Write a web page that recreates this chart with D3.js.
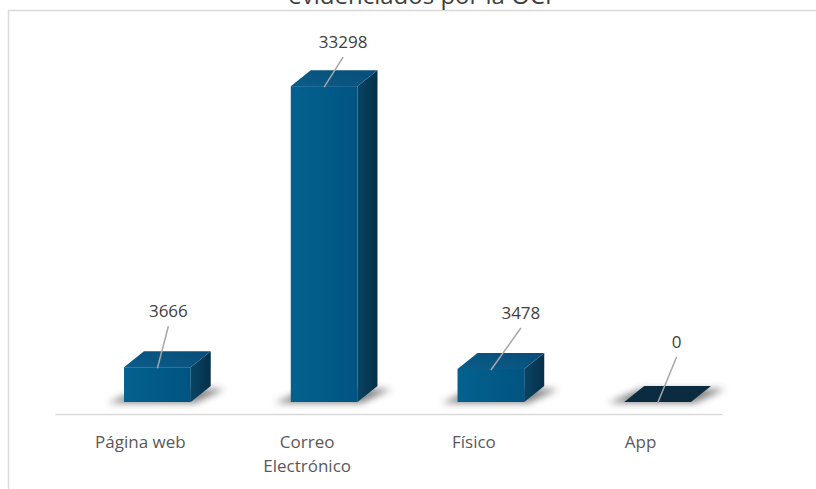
<!DOCTYPE html>
<html>
<head>
<meta charset="utf-8">
<script src="https://cdn.jsdelivr.net/npm/d3@7"></script>
<style>
 body { margin: 0; background: #fff; }
 text { font-family: "Open Sans", "Noto Sans", sans-serif; }
</style>
</head>
<body>
<svg id="graph"></svg>
<script>
// datos del grafico
const categories = ["Página web", "Correo Electrónico", "Físico", "App"];
const values = [3666, 33298, 3478, 0];
const titleText = "evidenciados por la OCI";

const width = 816;
const height = 489;
const floorY = 414;   // borde frontal del piso
const dx = 20, dy = 16; // profundidad de la barra
const fx = 19, fy = 12; // desplazamiento de la barra sobre el piso

// ajuste manual de las etiquetas de datos (dx, dy desde la cara superior)
const labelNudge = [[11, -56], [19, -44], [30, -56], [19, -60]];

let svg = d3.select("#graph")
 .attr("width", width)
 .attr("height", height);

let defs = svg.append("defs");

let gFront = defs.append("linearGradient").attr("id", "front")
 .attr("x1", 0).attr("y1", 0).attr("x2", 1).attr("y2", 0);
gFront.append("stop").attr("offset", 0).attr("stop-color", "#04618f");
gFront.append("stop").attr("offset", 1).attr("stop-color", "#005481");

let gSide = defs.append("linearGradient").attr("id", "side")
 .attr("x1", 0).attr("y1", 0).attr("x2", 1).attr("y2", 0);
gSide.append("stop").attr("offset", 0).attr("stop-color", "#094463");
gSide.append("stop").attr("offset", 1).attr("stop-color", "#05304a");

let gTop = defs.append("linearGradient").attr("id", "top")
 .attr("x1", 0).attr("y1", 1).attr("x2", 1).attr("y2", 0);
gTop.append("stop").attr("offset", 0).attr("stop-color", "#0b5c8a");
gTop.append("stop").attr("offset", 1).attr("stop-color", "#084d78");

defs.append("filter").attr("id", "blur")
 .attr("x", "-50%").attr("y", "-100%").attr("width", "200%").attr("height", "300%")
 .append("feGaussianBlur").attr("stdDeviation", 3.5);

// borde del area
svg.append("path")
 .attr("d", `M8.5,${height} V10.5 H${width}`)
 .attr("fill", "none")
 .attr("stroke", "#d9d9d9")
 .attr("stroke-width", 1.5);

// titulo (cortado arriba, como en el original)
svg.append("text")
 .attr("x", 420)
 .attr("y", 4)
 .attr("text-anchor", "middle")
 .attr("font-size", 24)
 .attr("fill", "#404040")
 .text(titleText);

// escalas
let scaleX = d3.scaleBand()
 .domain(categories)
 .range([55, 722])
 .paddingInner(0.6)
 .paddingOuter(0.3);

let scaleY = d3.scaleLinear()
 .domain([0, 35000])
 .range([floorY - fy, 70]);

// eje X
let axisX = d3.axisBottom(scaleX).tickSize(0).tickSizeOuter(0);
let gx = svg.append("g")
 .attr("transform", `translate(2, ${floorY})`)
 .call(axisX);
gx.select(".domain").attr("stroke", "#d9d9d9").attr("stroke-width", 1.5)
 .attr("transform", "translate(-2,0)");
gx.selectAll("text")
 .attr("font-size", 17)
 .attr("fill", "#595959")
 .attr("font-family", null)
 .attr("y", 34)
 .attr("dy", null)
 .each(function(d) {
 let t = d3.select(this);
 let words = d.split(" ");
 if (words.length > 1 && this.getComputedTextLength() > 120) {
 t.text(null);
 words.forEach((w, i) => {
 t.append("tspan").attr("x", 0).attr("y", 34 + i * 24).text(w);
 });
 }
 });

let bars = categories.map((c, i) => ({
 c: c,
 v: values[i],
 x0: scaleX(c) + fx,
 w: scaleX.bandwidth(),
 yb: scaleY(0),
 yt: scaleY(values[i])
}));

// sombras
svg.append("g").selectAll("polygon")
 .data(bars)
 .enter()
 .append("polygon")
 .attr("points", d => [
 [d.x0 - 16, d.yb + 1],
 [d.x0 + d.w + 4, d.yb + 1],
 [d.x0 + d.w + dx + 14, d.yb - dy + 3],
 [d.x0 + dx - 4, d.yb - dy + 3]
 ].join(" "))
 .attr("fill", "#666")
 .attr("opacity", 0.8)
 .attr("filter", "url(#blur)");

// barras 3D
let gb = svg.append("g").selectAll("g")
 .data(bars)
 .enter()
 .append("g");

gb.filter(d => d.v > 0).append("rect")
 .attr("x", d => d.x0)
 .attr("y", d => d.yt)
 .attr("width", d => d.w)
 .attr("height", d => d.yb - d.yt)
 .attr("fill", "url(#front)");

gb.filter(d => d.v > 0).append("polygon")
 .attr("points", d => [
 [d.x0 + d.w, d.yt],
 [d.x0 + d.w + dx, d.yt - dy],
 [d.x0 + d.w + dx, d.yb - dy],
 [d.x0 + d.w, d.yb]
 ].join(" "))
 .attr("fill", "url(#side)");

gb.append("polygon")
 .attr("points", d => [
 [d.x0, d.yt],
 [d.x0 + dx, d.yt - dy],
 [d.x0 + d.w + dx, d.yt - dy],
 [d.x0 + d.w, d.yt]
 ].join(" "))
 .attr("fill", d => d.v > 0 ? "url(#top)" : "#0b2c40");

// etiquetas de datos con linea guia
bars.forEach((d, i) => {
 let ax = d.x0 + d.w / 2;
 let ay = d.yt;
 let lx = ax + labelNudge[i][0];
 let ly = ay + labelNudge[i][1];
 svg.append("line")
 .attr("x1", lx)
 .attr("y1", ly + 15)
 .attr("x2", ax)
 .attr("y2", ay + 1)
 .attr("stroke", "#a6a6a6")
 .attr("stroke-width", 1.5);
 svg.append("text")
 .attr("x", lx)
 .attr("y", ly + 6)
 .attr("text-anchor", "middle")
 .attr("font-size", 17)
 .attr("fill", "#404040")
 .text(d3.format("d")(d.v));
});
</script>
</body>
</html>
